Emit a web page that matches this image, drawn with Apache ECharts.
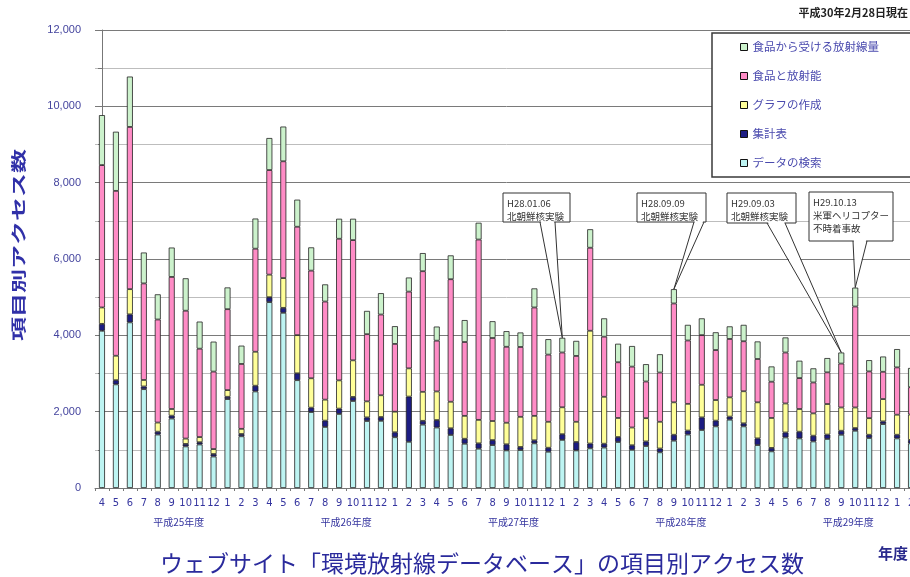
<!DOCTYPE html>
<html>
<head>
<meta charset="utf-8">
<script src="https://cdn.jsdelivr.net/npm/echarts@6/dist/echarts.min.js"></script>
<style>
  html, body { margin: 0; padding: 0; background: #fff; overflow: hidden; width: 910px; height: 577px; }
  #chart { width: 960px; height: 577px; }
</style>
</head>
<body>
<div id="chart"></div>
<script>
// Month of each bar, April of 平成25年度 through February of 平成29年度
const months = [
  '4','5','6','7','8','9','10','11','12','1','2','3',
  '4','5','6','7','8','9','10','11','12','1','2','3',
  '4','5','6','7','8','9','10','11','12','1','2','3',
  '4','5','6','7','8','9','10','11','12','1','2','3',
  '4','5','6','7','8','9','10','11','12','1','2'
];
const fiscalYears = ['平成25年度', '平成26年度', '平成27年度', '平成28年度', '平成29年度'];
const fiscalYearCentres = [5.5, 17.5, 29.5, 41.5, 53.5];

// Monthly access counts per page
const dataSearch = [
  4120, 2715, 4340, 2590, 1400, 1820, 1090, 1140, 825, 2330, 1355, 2530,
  4870, 4590, 2825, 1990, 1600, 1940, 2280, 1755, 1760, 1330, 1210, 1660,
  1585, 1390, 1160, 1030, 1125, 985, 995, 1170, 950, 1260, 985, 1040,
  1060, 1205, 1000, 1100, 935, 1240, 1400, 1520, 1615, 1790, 1615, 1125,
  960, 1325, 1300, 1220, 1285, 1395, 1500, 1310, 1675, 1300, 1170
];
const summaryTable = [
  180, 110, 210, 70, 75, 75, 65, 60, 65, 60, 60, 150,
  130, 130, 180, 115, 165, 140, 105, 95, 100, 130, 1185, 100,
  195, 175, 130, 140, 130, 160, 80, 80, 105, 150, 220, 125,
  100, 130, 120, 120, 100, 155, 105, 330, 150, 80, 80, 175,
  90, 130, 175, 150, 115, 105, 70, 85, 70, 95, 90
];
const graphMaking = [
  430, 640, 660, 170, 240, 175, 140, 135, 130, 175, 135, 890,
  590, 780, 1000, 770, 550, 740, 960, 420, 570, 540, 740, 760,
  750, 695, 600, 615, 500, 565, 790, 640, 680, 705, 530, 2955,
  1230, 500, 465, 610, 700, 850, 700, 855, 540, 505, 840, 945,
  785, 760, 595, 585, 800, 610, 540, 435, 585, 525, 665
];
const foodRadioactivity = [
  3730, 4320, 4250, 2530, 2700, 3460, 3350, 2315, 2030, 2120, 1700, 2700,
  2740, 3060, 2840, 2820, 2570, 3710, 3150, 1760, 2115, 1775, 2010, 3160,
  1330, 3210, 1935, 4725, 2175, 1990, 1830, 2840, 1760, 1435, 1725, 2175,
  1575, 1460, 1595, 960, 1290, 2590, 1660, 1300, 1310, 1530, 1310, 1135,
  950, 1335, 810, 810, 830, 1150, 2645, 1225, 715, 1240, 715
];
const foodDose = [
  1310, 1550, 1320, 810, 660, 770, 850, 710, 785, 570, 480, 790,
  840, 910, 710, 610, 450, 525, 560, 610, 560, 465, 370, 475,
  370, 625, 575, 440, 440, 410, 380, 500, 405, 385, 395, 485,
  480, 485, 540, 455, 480, 375, 410, 440, 465, 330, 430, 460,
  400, 395, 455, 370, 375, 290, 495, 295, 400, 480, 505
];

// Stack order from the bottom up
const seriesNames = ['データの検索', '集計表', 'グラフの作成', '食品と放射能', '食品から受ける放射線量'];
const seriesValues = [dataSearch, summaryTable, graphMaking, foodRadioactivity, foodDose];
const seriesColors = ['#bdf4f2', '#1c1c82', '#ffff99', '#ff8cc6', '#ccf2cc'];

// Event notes and the month each one points at
const eventTexts = [
  'H28.01.06\n北朝鮮核実験',
  'H28.09.09\n北朝鮮核実験',
  'H29.09.03\n北朝鮮核実験',
  'H29.10.13\n米軍ヘリコプター\n不時着事故'
];
const eventMonthIndex = [33, 41, 53, 54];

const yTickStep = 2000;
const titleText = 'ウェブサイト「環境放射線データベース」の項目別アクセス数';
const yAxisTitle = '項目別アクセス数';
const asOfText = '平成30年2月28日現在';

const blueText = '#35359f';
const cjk = "'Noto Sans CJK JP', 'Noto Sans', sans-serif";
const narrow = "'Liberation Sans Narrow', 'DejaVu Sans Condensed', 'Liberation Sans', sans-serif";

const chart = echarts.init(document.getElementById('chart'), null, { renderer: 'canvas' });

chart.setOption({
  animation: false,
  backgroundColor: '#ffffff',
  textStyle: { fontFamily: cjk },
  grid: { left: 95, right: 42, top: 30, bottom: 89, outerBoundsMode: 'none' },
  legend: {
    data: seriesNames.slice().reverse(),
    orient: 'vertical',
    left: 712,
    top: 33,
    padding: [7, 90, 7, 28],
    itemGap: 15,
    itemWidth: 7,
    itemHeight: 7,
    icon: 'rect',
    backgroundColor: '#ffffff',
    borderColor: '#3a3a3a',
    borderWidth: 1.5,
    textStyle: { color: '#4a4aae', fontSize: 11.5, lineHeight: 14, fontFamily: cjk },
    itemStyle: { borderColor: '#111', borderWidth: 1 }
  },
  xAxis: [
    {
      type: 'category',
      data: months,
      boundaryGap: true,
      axisLine: { show: true, lineStyle: { color: '#777' } },
      axisTick: { show: true, length: 3, lineStyle: { color: '#777' } },
      axisLabel: { interval: 0, color: blueText, fontSize: 11, margin: 10, fontFamily: narrow },
      splitLine: { show: false }
    },
    {
      type: 'value',
      position: 'bottom',
      min: -0.5,
      max: months.length - 0.5,
      offset: 21,
      axisLine: { show: false },
      axisTick: { show: false },
      splitLine: { show: false },
      axisLabel: {
        customValues: fiscalYearCentres,
        formatter: function (v) { return fiscalYears[fiscalYearCentres.indexOf(v)] || ''; },
        color: blueText,
        fontSize: 10,
        fontFamily: cjk
      }
    }
  ],
  yAxis: {
    type: 'value',
    min: 0,
    max: 12000,
    interval: 1000,
    axisLine: { show: true, lineStyle: { color: '#777' } },
    axisTick: { show: true, length: 4, lineStyle: { color: '#777' } },
    axisLabel: {
      color: '#44449e',
      fontSize: 11,
      margin: 14,
      fontFamily: "'Liberation Sans', Arial, sans-serif",
      formatter: function (v) { return v % yTickStep ? '' : v.toLocaleString('en-US'); }
    },
    splitLine: { show: true, lineStyle: { color: ['#7a7a7a', '#bdbdbd'], width: 1 } }
  },
  series: seriesNames.map(function (name, i) {
    return {
      name: name,
      type: 'bar',
      stack: 'access',
      barWidth: 6,
      data: seriesValues[i],
      itemStyle: { color: seriesColors[i], borderColor: '#222', borderWidth: 0.8 },
      emphasis: { disabled: true }
    };
  })
});

// Callout boxes with wedge pointers to the month total
const calloutLayout = [
  { x: 503, y: 193, w: 67, h: 29, base: [540, 555] },
  { x: 637, y: 193, w: 69, h: 29, base: [694, 704] },
  { x: 727, y: 193, w: 69, h: 30, base: [767, 785] },
  { x: 809, y: 192, w: 84, h: 49, base: [853, 867] }
];

function monthTotal(i) {
  return seriesValues.reduce(function (s, arr) { return s + arr[i]; }, 0);
}

const elements = [];
eventTexts.forEach(function (txt, k) {
  const box = calloutLayout[k];
  const tip = chart.convertToPixel({ xAxisIndex: 0, yAxisIndex: 0 }, [eventMonthIndex[k], monthTotal(eventMonthIndex[k])]);
  const by = box.y + box.h;
  elements.push({
    type: 'rect', z: 100,
    shape: { x: box.x, y: box.y, width: box.w, height: box.h },
    style: { fill: '#fff', stroke: '#333', lineWidth: 1 }
  });
  elements.push({
    type: 'polygon', z: 101,
    shape: { points: [[box.base[0] + 0.8, by - 1], [box.base[1] - 0.8, by - 1], [tip[0], tip[1]]] },
    style: { fill: '#fff', stroke: null }
  });
  elements.push({
    type: 'polyline', z: 102,
    shape: { points: [[box.base[0], by], [tip[0], tip[1]], [box.base[1], by]] },
    style: { stroke: '#333', lineWidth: 1, fill: null }
  });
  elements.push({
    type: 'text', z: 103, x: box.x + 4, y: box.y + 4,
    style: { text: txt, fill: '#333', font: "9.5px " + cjk, lineHeight: 13 }
  });
});

// Vertical axis title
elements.push({
  type: 'text', z: 50,
  x: 18, y: 245, rotation: Math.PI / 2, scaleX: 1.6, scaleY: 1,
  style: { text: yAxisTitle, fill: '#3030a8', font: "bold 15px " + cjk, align: 'center', verticalAlign: 'middle' }
});
// Chart title below the axis
elements.push({
  type: 'text', z: 50,
  x: 482, y: 563,
  style: { text: titleText, fill: '#2a2a9c', font: "23px " + cjk, align: 'center', verticalAlign: 'middle' }
});
// Unit label for the month axis
elements.push({
  type: 'text', z: 50,
  x: 878, y: 553,
  style: { text: '年度', fill: '#2a2a8c', font: "bold 15px " + cjk, align: 'left', verticalAlign: 'middle' }
});
// Date stamp
elements.push({
  type: 'text', z: 50,
  x: 908, y: 13,
  style: { text: asOfText, fill: '#222', font: "bold 11px " + cjk, align: 'right', verticalAlign: 'middle' }
});

chart.setOption({ graphic: { elements: elements } });
</script>
</body>
</html>
